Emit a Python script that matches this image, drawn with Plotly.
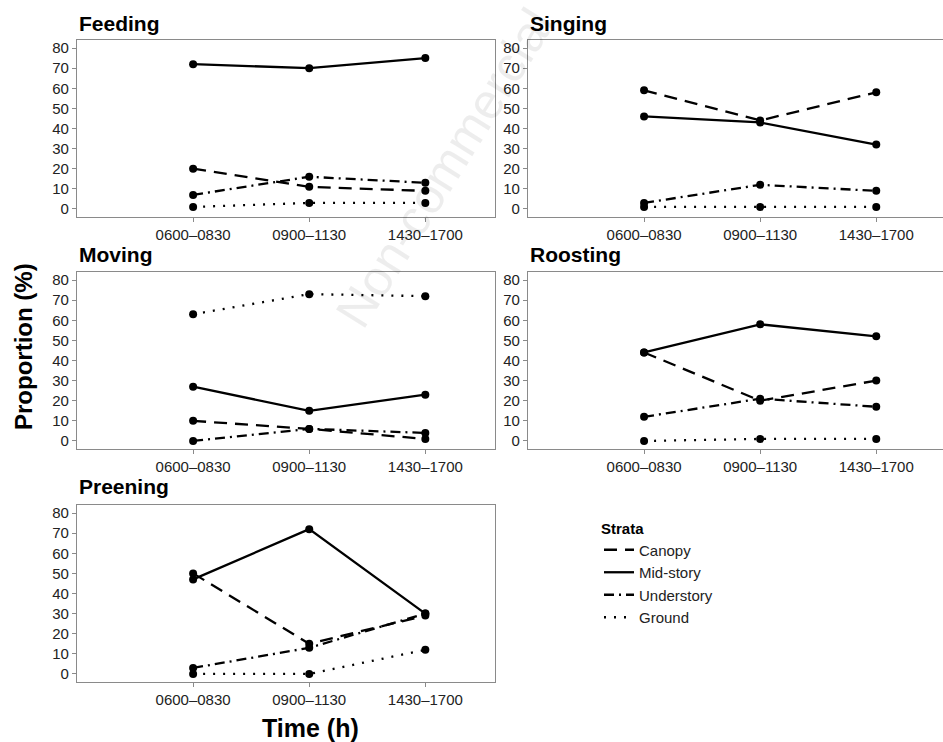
import plotly.graph_objects as go

# ---------------- data ----------------
categories = ["0600–0830", "0900–1130", "1430–1700"]
strata = ["Canopy", "Mid-story", "Understory", "Ground"]

# values per stratum (Canopy, Mid-story, Understory, Ground)
feeding = [[20, 11, 9], [72, 70, 75], [7, 16, 13], [1, 3, 3]]
singing = [[59, 44, 58], [46, 43, 32], [3, 12, 9], [1, 1, 1]]
moving = [[10, 6, 1], [27, 15, 23], [0, 6, 4], [63, 73, 72]]
roosting = [[44, 20, 30], [44, 58, 52], [12, 21, 17], [0, 1, 1]]
preening = [[50, 15, 29], [47, 72, 30], [3, 13, 30], [0, 0, 12]]

behaviours = ["Feeding", "Singing", "Moving", "Roosting", "Preening"]
panel_data = [feeding, singing, moving, roosting, preening]
y_ticks = [0, 10, 20, 30, 40, 50, 60, 70, 80]

# ---------------- styling ----------------
W, H = 943, 742
FONT = "Liberation Sans, Arial, Helvetica, sans-serif"
dashes = {"Canopy": "13px,8px", "Mid-story": "solid",
          "Understory": "10px,5px,2px,5px", "Ground": "2px,8px"}
frame = "#8a8a8a"
tickfont = dict(family=FONT, size=15, color="#222222")

def px_x(p):
    return p / W

def px_y(p):
    return 1 - p / H

col_dom = [(px_x(77), px_x(495)), (px_x(528), 1.0)]
col_rng = [[-1, 2.6], [-1, 2.575]]
row_dom = [(px_y(217), px_y(40)), (px_y(449), px_y(272)), (px_y(682), px_y(505))]
title_y = [23, 255, 487]
title_x = [77, 528]

fig = go.Figure()
layout = dict(
    width=W, height=H, margin=dict(l=0, r=0, t=0, b=0),
    paper_bgcolor="white", plot_bgcolor="white",
    font=dict(family=FONT, color="#111111"),
    showlegend=True,
)
annotations = []

for i, (name, data) in enumerate(zip(behaviours, panel_data)):
    r, c = divmod(i, 2)
    ax = "" if i == 0 else str(i + 1)
    xa, ya = "x" + ax, "y" + ax
    for s, vals in zip(strata, data):
        fig.add_trace(go.Scatter(
            x=categories, y=vals, xaxis=xa, yaxis=ya, mode="lines+markers",
            line=dict(color="black", width=2.3, dash=dashes[s]),
            marker=dict(color="black", size=8), showlegend=False, name=s,
            hoverinfo="skip"))
    layout["xaxis" + ax] = dict(
        domain=list(col_dom[c]), anchor=ya, type="category",
        categoryorder="array", categoryarray=categories,
        range=col_rng[c], showgrid=False, zeroline=False,
        showline=True, mirror=True, linecolor=frame, linewidth=1.2,
        ticks="outside", ticklen=4, tickcolor=frame, tickwidth=1,
        tickfont=tickfont, fixedrange=True)
    layout["yaxis" + ax] = dict(
        domain=list(row_dom[r]), anchor=xa, range=[-4, 84],
        tickvals=y_ticks, showgrid=False, zeroline=False,
        showline=True, mirror=(c == 0), linecolor=frame, linewidth=1.2,
        ticks="outside", ticklen=4, tickcolor=frame, tickwidth=1,
        tickfont=tickfont, fixedrange=True)
    annotations.append(dict(
        text="<b>%s</b>" % name, xref="paper", yref="paper",
        x=px_x(title_x[c]), y=px_y(title_y[r]), xanchor="left",
        yanchor="middle", showarrow=False,
        font=dict(family=FONT, size=21, color="black")))

# legend-only traces (lines, no markers)
for s in strata:
    fig.add_trace(go.Scatter(
        x=[None], y=[None], mode="lines", name=s, showlegend=True,
        line=dict(color="black", width=2.3, dash=dashes[s])))

layout["legend"] = dict(
    title=dict(text="<b>Strata</b>", font=dict(family=FONT, size=15, color="black")),
    font=dict(family=FONT, size=15, color="#222222"),
    x=px_x(599), y=px_y(514), xanchor="left", yanchor="top",
    bgcolor="rgba(0,0,0,0)", tracegroupgap=0, itemclick=False)

# axis titles
annotations.append(dict(
    text="<b>Proportion (%)</b>", xref="paper", yref="paper",
    x=px_x(23), y=px_y(347), textangle=-90, showarrow=False,
    xanchor="center", yanchor="middle",
    font=dict(family=FONT, size=24, color="black")))
annotations.append(dict(
    text="<b>Time (h)</b>", xref="paper", yref="paper",
    x=px_x(310), y=px_y(728), showarrow=False,
    xanchor="center", yanchor="middle",
    font=dict(family=FONT, size=25, color="black")))

# faint watermark
annotations.append(dict(
    text="Non-commercial", xref="paper", yref="paper",
    x=px_x(445), y=px_y(168), textangle=-58, showarrow=False,
    xanchor="center", yanchor="middle",
    font=dict(family=FONT, size=50, color="rgba(0,0,0,0.07)")))

layout["annotations"] = annotations
fig.update_layout(**layout)
fig.write_html("out.html")
